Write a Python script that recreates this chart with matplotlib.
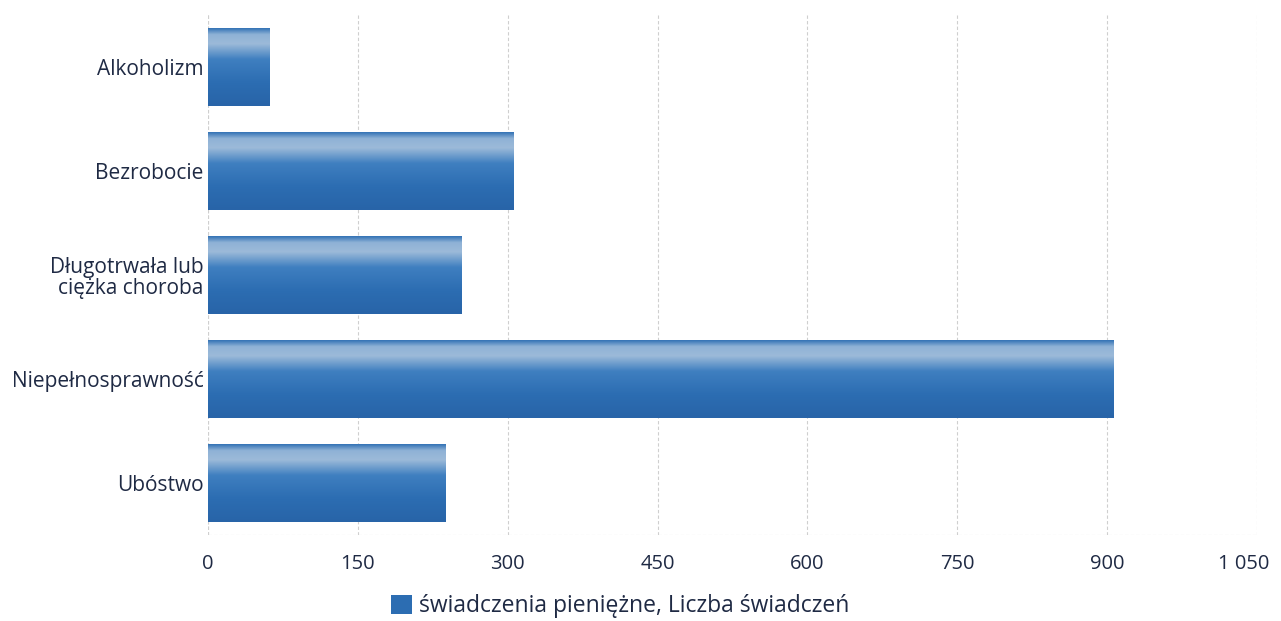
import matplotlib
matplotlib.use('Agg')
import matplotlib.pyplot as plt
from matplotlib.patches import Patch
from matplotlib.ticker import FuncFormatter
from matplotlib.transforms import ScaledTranslation
import numpy as np

categories = ['Alkoholizm', 'Bezrobocie', 'Długotrwała lub\nciężka choroba',
              'Niepełnosprawność', 'Ubóstwo']
values = [62, 306, 254, 906, 238]
ticks = [0, 150, 300, 450, 600, 750, 900, 1050]
legend_label = 'świadczenia pieniężne, Liczba świadczeń'

plt.rcParams['font.family'] = ['Open Sans', 'DejaVu Sans']
text_color = '#1f2a44'
bar_color = '#2c6db2'

fig = plt.figure(figsize=(12.81, 6.21), dpi=100)
ax = fig.add_axes([208 / 1281, 1 - 535 / 621, 1049 / 1281, 520 / 621])

ypos = np.arange(len(categories))
bars = ax.barh(ypos, values, height=0.75, color=bar_color, zorder=2)

# glossy look: dark rim at top, pale band just below, then plain blue
grad = np.linspace(0, 1, 200).reshape(-1, 1)
cmap = matplotlib.colors.LinearSegmentedColormap.from_list(
    'shine', [(0.0, '#3574b6'), (0.08, '#8fb2d6'), (0.2, '#9cbad9'),
              (0.4, '#3f7fc0'), (0.7, '#2c6db2'), (1.0, '#2864a8')])
for b in bars:
    x0, y0 = b.get_x(), b.get_y()
    w, h = b.get_width(), b.get_height()
    im = ax.imshow(grad, aspect='auto', cmap=cmap, extent=[x0, x0 + w, y0 + h, y0],
                   zorder=3, origin='upper', interpolation='bilinear')
    im.set_clip_path(b)

ax.set_xlim(0, 1050)
ax.set_ylim(len(categories) - 0.5, -0.5)
ax.set_xticks(ticks)
ax.xaxis.set_major_formatter(FuncFormatter(lambda v, p: f'{int(v):,}'.replace(',', ' ')))
ax.set_yticks(ypos)
ax.set_yticklabels(categories, fontsize=15, color=text_color, linespacing=1.05)
ax.tick_params(axis='x', labelsize=14.5, colors=text_color, length=0, pad=14)
ax.tick_params(axis='y', length=0, pad=3)
ax.grid(axis='x', color='#cfcfcf', linestyle=(0, (3, 2)), linewidth=0.8, zorder=0)
for s in ax.spines.values():
    s.set_visible(False)
ax.axvline(0, color='#cfcfcf', linestyle=(0, (3, 2)), linewidth=0.8, zorder=1)
ax.axhline(len(categories) - 0.5, color='#cfcfcf', linestyle=(0, (3, 2)), linewidth=0.8, zorder=1)

# keep the last tick label inside the picture
last = ax.get_xticklabels()[-1]
last.set_transform(last.get_transform() + ScaledTranslation(-13 / 100, 0, fig.dpi_scale_trans))

handle = Patch(facecolor=bar_color, edgecolor='none')
fig.legend([handle], [legend_label], loc='center', bbox_to_anchor=(620 / 1281, 1 - 606 / 621),
           frameon=False, fontsize=16.5, handlelength=0.9, handleheight=0.9, handletextpad=0.3,
           labelcolor=text_color)

fig.savefig('out.png', dpi=100, facecolor='white')
